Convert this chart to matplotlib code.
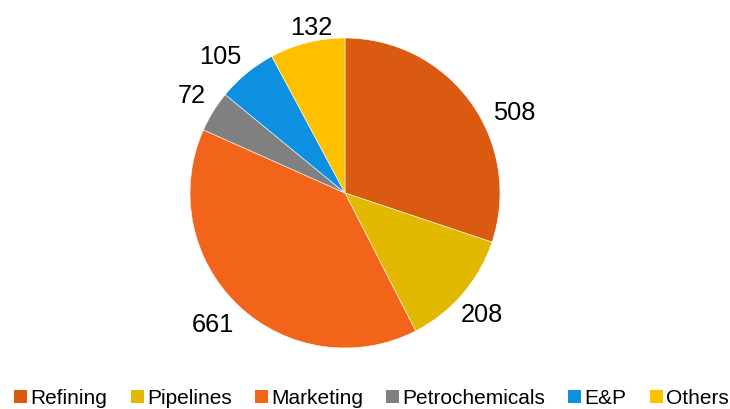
import numpy as np
import matplotlib.pyplot as plt
from matplotlib.patches import Patch

plt.rcParams['font.family'] = ['Liberation Sans', 'DejaVu Sans']

# data
segments = ['Refining', 'Pipelines', 'Marketing', 'Petrochemicals', 'E&P', 'Others']
values = [508, 208, 661, 72, 105, 132]
colors = ['#D95A10', '#E2B800', '#F26419', '#808080', '#0E90E0', '#FFC000']

fig = plt.figure(figsize=(7.3, 4.09), dpi=100)
# pie centre ~ (345, 193) px, radius ~155 px
ax = fig.add_axes([(345 - 155) / 730, (409 - 193 - 155) / 409, 310 / 730, 310 / 409])

wedges, _ = ax.pie(values, colors=colors, startangle=90, counterclock=False,
                   radius=1.0, wedgeprops=dict(edgecolor='white', linewidth=0.4))
ax.set_xlim(-1, 1)
ax.set_ylim(-1, 1)
ax.set_aspect('auto')

# Excel's "best fit" places labels a little off the mid-angle
angle_shift = [-9.7, -0.5, -2.2, -1.2, 2.6, -2.8]
label_dist = [1.218, 1.175, 1.195, 1.176, 1.206, 1.099]
for i, w in enumerate(wedges):
    mid = (w.theta1 + w.theta2) / 2 + angle_shift[i]
    x = label_dist[i] * np.cos(np.radians(mid))
    y = label_dist[i] * np.sin(np.radians(mid))
    ax.text(x, y, str(values[i]), ha='center', va='center_baseline', fontsize=18.3,
            clip_on=False)

handles = [Patch(facecolor=c, edgecolor='none') for c in colors]
fig.legend(handles, segments, loc='lower center', bbox_to_anchor=(0.509, -0.043), ncol=6,
           frameon=False, fontsize=15, handlelength=0.62, handleheight=0.62,
           handletextpad=0.15, columnspacing=1.12)

fig.savefig('out.png', dpi=100)
